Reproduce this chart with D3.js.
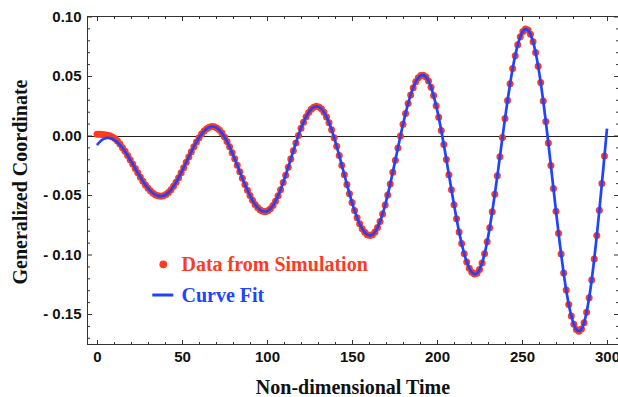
<!DOCTYPE html>
<html>
<head>
<meta charset="utf-8">
<script src="https://cdn.jsdelivr.net/npm/d3@7"></script>
<style>
  body { margin: 0; background: #fff; }
  svg { display: block; }
</style>
</head>
<body>
<svg id="chart" width="618" height="397"></svg>
<script>
// sampling grid of the non-dimensional time
const timeGrid = [
  0, 1.5, 3, 4.5, 6, 7.5, 9, 10.5, 12, 13.5,
  15, 16.5, 18, 19.5, 21, 22.5, 24, 25.5, 27, 28.5,
  30, 31.5, 33, 34.5, 36, 37.5, 39, 40.5, 42, 43.5,
  45, 46.5, 48, 49.5, 51, 52.5, 54, 55.5, 57, 58.5,
  60, 61.5, 63, 64.5, 66, 67.5, 69, 70.5, 72, 73.5,
  75, 76.5, 78, 79.5, 81, 82.5, 84, 85.5, 87, 88.5,
  90, 91.5, 93, 94.5, 96, 97.5, 99, 100.5, 102, 103.5,
  105, 106.5, 108, 109.5, 111, 112.5, 114, 115.5, 117, 118.5,
  120, 121.5, 123, 124.5, 126, 127.5, 129, 130.5, 132, 133.5,
  135, 136.5, 138, 139.5, 141, 142.5, 144, 145.5, 147, 148.5,
  150, 151.5, 153, 154.5, 156, 157.5, 159, 160.5, 162, 163.5,
  165, 166.5, 168, 169.5, 171, 172.5, 174, 175.5, 177, 178.5,
  180, 181.5, 183, 184.5, 186, 187.5, 189, 190.5, 192, 193.5,
  195, 196.5, 198, 199.5, 201, 202.5, 204, 205.5, 207, 208.5,
  210, 211.5, 213, 214.5, 216, 217.5, 219, 220.5, 222, 223.5,
  225, 226.5, 228, 229.5, 231, 232.5, 234, 235.5, 237, 238.5,
  240, 241.5, 243, 244.5, 246, 247.5, 249, 250.5, 252, 253.5,
  255, 256.5, 258, 259.5, 261, 262.5, 264, 265.5, 267, 268.5,
  270, 271.5, 273, 274.5, 276, 277.5, 279, 280.5, 282, 283.5,
  285, 286.5, 288, 289.5, 291, 292.5, 294, 295.5, 297, 298.5,
  300
];

// red dots (last sample at t = 298.5)
const simulation = [
  0.0010, 0.0010, 0.0009, 0.0007, 0.0003, -0.0003, -0.0012, -0.0026, -0.0046, -0.0072,
  -0.0102, -0.0133, -0.0168, -0.0204, -0.0240, -0.0277, -0.0314, -0.0350, -0.0384, -0.0415,
  -0.0443, -0.0466, -0.0485, -0.0499, -0.0507, -0.0510, -0.0507, -0.0496, -0.0479, -0.0456,
  -0.0427, -0.0393, -0.0355, -0.0314, -0.0270, -0.0225, -0.0180, -0.0136, -0.0094, -0.0054,
  -0.0019, 0.0012, 0.0037, 0.0056, 0.0069, 0.0075, 0.0073, 0.0064, 0.0046, 0.0020,
  -0.0012, -0.0051, -0.0095, -0.0144, -0.0196, -0.0250, -0.0304, -0.0359, -0.0411, -0.0460,
  -0.0505, -0.0545, -0.0579, -0.0606, -0.0626, -0.0637, -0.0640, -0.0633, -0.0616, -0.0589,
  -0.0552, -0.0507, -0.0455, -0.0396, -0.0333, -0.0266, -0.0198, -0.0129, -0.0062, 0.0001,
  0.0060, 0.0112, 0.0157, 0.0194, 0.0221, 0.0238, 0.0245, 0.0240, 0.0224, 0.0196,
  0.0156, 0.0107, 0.0048, -0.0018, -0.0091, -0.0168, -0.0249, -0.0330, -0.0411, -0.0489,
  -0.0563, -0.0630, -0.0691, -0.0742, -0.0783, -0.0814, -0.0833, -0.0840, -0.0833, -0.0811,
  -0.0774, -0.0723, -0.0659, -0.0584, -0.0499, -0.0407, -0.0308, -0.0207, -0.0105, -0.0004,
  0.0094, 0.0185, 0.0268, 0.0341, 0.0402, 0.0451, 0.0485, 0.0504, 0.0507, 0.0492,
  0.0458, 0.0406, 0.0336, 0.0251, 0.0153, 0.0042, -0.0076, -0.0201, -0.0329, -0.0456,
  -0.0581, -0.0699, -0.0810, -0.0908, -0.0993, -0.1063, -0.1115, -0.1149, -0.1164, -0.1158,
  -0.1127, -0.1072, -0.0993, -0.0893, -0.0775, -0.0641, -0.0494, -0.0339, -0.0178, -0.0017,
  0.0142, 0.0294, 0.0434, 0.0562, 0.0671, 0.0762, 0.0830, 0.0875, 0.0894, 0.0887,
  0.0851, 0.0788, 0.0697, 0.0582, 0.0445, 0.0289, 0.0118, -0.0064, -0.0253, -0.0446,
  -0.0636, -0.0821, -0.0996, -0.1156, -0.1298, -0.1420, -0.1516, -0.1587, -0.1631, -0.1645,
  -0.1627, -0.1573, -0.1485, -0.1364, -0.1214, -0.1038, -0.0841, -0.0628, -0.0403, -0.0173
];

// blue fitted curve
const curveFit = [
  -0.0080, -0.0056, -0.0037, -0.0026, -0.0020, -0.0021, -0.0028, -0.0040, -0.0057, -0.0079,
  -0.0105, -0.0135, -0.0168, -0.0204, -0.0240, -0.0277, -0.0314, -0.0350, -0.0384, -0.0415,
  -0.0443, -0.0466, -0.0485, -0.0499, -0.0507, -0.0510, -0.0507, -0.0496, -0.0479, -0.0456,
  -0.0427, -0.0393, -0.0355, -0.0314, -0.0270, -0.0225, -0.0180, -0.0136, -0.0094, -0.0054,
  -0.0019, 0.0012, 0.0037, 0.0056, 0.0069, 0.0075, 0.0073, 0.0064, 0.0046, 0.0020,
  -0.0012, -0.0051, -0.0095, -0.0144, -0.0196, -0.0250, -0.0304, -0.0359, -0.0411, -0.0460,
  -0.0505, -0.0545, -0.0579, -0.0606, -0.0626, -0.0637, -0.0640, -0.0633, -0.0616, -0.0589,
  -0.0552, -0.0507, -0.0455, -0.0396, -0.0333, -0.0266, -0.0198, -0.0129, -0.0062, 0.0001,
  0.0060, 0.0112, 0.0157, 0.0194, 0.0221, 0.0238, 0.0245, 0.0240, 0.0224, 0.0196,
  0.0156, 0.0107, 0.0048, -0.0018, -0.0091, -0.0168, -0.0249, -0.0330, -0.0411, -0.0489,
  -0.0563, -0.0630, -0.0691, -0.0742, -0.0783, -0.0814, -0.0833, -0.0840, -0.0833, -0.0811,
  -0.0774, -0.0723, -0.0659, -0.0584, -0.0499, -0.0407, -0.0308, -0.0207, -0.0105, -0.0004,
  0.0094, 0.0185, 0.0268, 0.0341, 0.0402, 0.0451, 0.0485, 0.0504, 0.0507, 0.0492,
  0.0458, 0.0406, 0.0336, 0.0251, 0.0153, 0.0042, -0.0076, -0.0201, -0.0329, -0.0456,
  -0.0581, -0.0699, -0.0810, -0.0908, -0.0993, -0.1063, -0.1115, -0.1149, -0.1164, -0.1158,
  -0.1127, -0.1072, -0.0993, -0.0893, -0.0775, -0.0641, -0.0494, -0.0339, -0.0178, -0.0017,
  0.0142, 0.0294, 0.0434, 0.0562, 0.0671, 0.0762, 0.0830, 0.0875, 0.0894, 0.0887,
  0.0851, 0.0788, 0.0697, 0.0582, 0.0445, 0.0289, 0.0118, -0.0064, -0.0253, -0.0446,
  -0.0636, -0.0821, -0.0996, -0.1156, -0.1298, -0.1420, -0.1516, -0.1587, -0.1631, -0.1645,
  -0.1627, -0.1573, -0.1485, -0.1364, -0.1214, -0.1038, -0.0841, -0.0628, -0.0403, -0.0173,
  0.0058
];

const xMajorTicks = [0, 50, 100, 150, 200, 250, 300];
const xTickLabels = ['0', '50', '100', '150', '200', '250', '300'];
const yMajorTicks = [-0.15, -0.10, -0.05, 0, 0.05, 0.10];
const yTickLabels = ['- 0.15', '- 0.10', '- 0.05', '0.00', '0.05', '0.10'];
const legendLabels = ['Data from Simulation', 'Curve Fit'];

const RED = '#ff3b1f';
const BLUE = '#1f43ff';

const svg = d3.select('#chart');

const frame = { left: 87.5, right: 618.5, top: 16.5, bottom: 344.5 };

const x = d3.scaleLinear().domain([0, 300]).range([97, 607]);
const y = d3.scaleLinear().domain([-0.15, 0.10]).range([314, 16.5]);

// minor ticks (not data)
const xMinorTicks = d3.range(0, 310, 10).filter(function(d) { return d % 50 !== 0; });
const yMinorTicks = d3.range(-17, 11, 1)
  .filter(function(d) { return d % 5 !== 0; })
  .map(function(d) { return d / 100; });

function styleAxis(g) {
  g.select('.domain').remove();
  g.selectAll('line').attr('stroke', '#333').attr('stroke-width', 1);
  g.selectAll('text')
    .attr('font-family', '"Liberation Sans", Arial, sans-serif')
    .attr('font-weight', 'bold')
    .attr('font-size', 15)
    .attr('fill', '#111');
}

// left
svg.append('g')
  .attr('transform', 'translate(' + frame.left + ',0)')
  .call(d3.axisLeft(y).tickValues(yMajorTicks).tickSize(-4.5).tickPadding(6)
    .tickFormat(function(d, i) { return yTickLabels[i]; }))
  .call(styleAxis);
svg.append('g')
  .attr('transform', 'translate(' + frame.left + ',0)')
  .call(d3.axisLeft(y).tickValues(yMinorTicks).tickSize(-2.5).tickFormat(''))
  .call(styleAxis);

// right
svg.append('g')
  .attr('transform', 'translate(' + frame.right + ',0)')
  .call(d3.axisRight(y).tickValues(yMajorTicks).tickSize(-4.5).tickFormat(''))
  .call(styleAxis);
svg.append('g')
  .attr('transform', 'translate(' + frame.right + ',0)')
  .call(d3.axisRight(y).tickValues(yMinorTicks).tickSize(-2.5).tickFormat(''))
  .call(styleAxis);

// bottom
svg.append('g')
  .attr('transform', 'translate(0,' + frame.bottom + ')')
  .call(d3.axisBottom(x).tickValues(xMajorTicks).tickSize(-4.5).tickPadding(7)
    .tickFormat(function(d, i) { return xTickLabels[i]; }))
  .call(styleAxis);
svg.append('g')
  .attr('transform', 'translate(0,' + frame.bottom + ')')
  .call(d3.axisBottom(x).tickValues(xMinorTicks).tickSize(-2.5).tickFormat(''))
  .call(styleAxis);

// top
svg.append('g')
  .attr('transform', 'translate(0,' + frame.top + ')')
  .call(d3.axisTop(x).tickValues(xMajorTicks).tickSize(-4.5).tickFormat(''))
  .call(styleAxis);
svg.append('g')
  .attr('transform', 'translate(0,' + frame.top + ')')
  .call(d3.axisTop(x).tickValues(xMinorTicks).tickSize(-2.5).tickFormat(''))
  .call(styleAxis);

// frame
svg.append('rect')
  .attr('x', frame.left)
  .attr('y', frame.top)
  .attr('width', frame.right - frame.left)
  .attr('height', frame.bottom - frame.top)
  .attr('fill', 'none')
  .attr('stroke', '#333')
  .attr('stroke-width', 1);

// zero line
svg.append('line')
  .attr('x1', frame.left)
  .attr('x2', frame.right)
  .attr('y1', Math.round(y(0)) + 0.5)
  .attr('y2', Math.round(y(0)) + 0.5)
  .attr('stroke', '#222')
  .attr('stroke-width', 1);

// simulation dots
svg.append('g')
  .selectAll('circle')
  .data(simulation)
  .enter()
  .append('circle')
  .attr('cx', function(d, i) { return x(timeGrid[i]); })
  .attr('cy', function(d) { return y(d); })
  .attr('r', 3.5)
  .attr('fill', RED);

// fitted curve
const line = d3.line()
  .x(function(d, i) { return x(timeGrid[i]); })
  .y(function(d) { return y(d); })
  .curve(d3.curveCatmullRom);

svg.append('path')
  .datum(curveFit)
  .attr('d', line)
  .attr('fill', 'none')
  .attr('stroke', BLUE)
  .attr('stroke-width', 2.7)
  .attr('stroke-linejoin', 'round');

// legend
const serif = '"Liberation Serif", "Times New Roman", serif';

svg.append('circle')
  .attr('cx', 163.3)
  .attr('cy', 264.3)
  .attr('r', 3.9)
  .attr('fill', RED);
svg.append('text')
  .attr('x', 181.5)
  .attr('y', 270.5)
  .attr('font-family', serif)
  .attr('font-weight', 'bold')
  .attr('font-size', 20)
  .attr('fill', RED)
  .text(legendLabels[0]);

svg.append('line')
  .attr('x1', 152.3)
  .attr('x2', 173.3)
  .attr('y1', 295)
  .attr('y2', 295)
  .attr('stroke', BLUE)
  .attr('stroke-width', 3);
svg.append('text')
  .attr('x', 181.5)
  .attr('y', 301.5)
  .attr('font-family', serif)
  .attr('font-weight', 'bold')
  .attr('font-size', 20)
  .attr('fill', BLUE)
  .text(legendLabels[1]);

// axis titles
svg.append('text')
  .attr('x', 353)
  .attr('y', 393.5)
  .attr('text-anchor', 'middle')
  .attr('font-family', serif)
  .attr('font-weight', 'bold')
  .attr('font-size', 20)
  .attr('fill', '#111')
  .text('Non-dimensional Time');

svg.append('text')
  .attr('transform', 'translate(27,182) rotate(-90)')
  .attr('text-anchor', 'middle')
  .attr('font-family', serif)
  .attr('font-weight', 'bold')
  .attr('font-size', 20)
  .attr('fill', '#111')
  .text('Generalized Coordinate');
</script>
</body>
</html>
